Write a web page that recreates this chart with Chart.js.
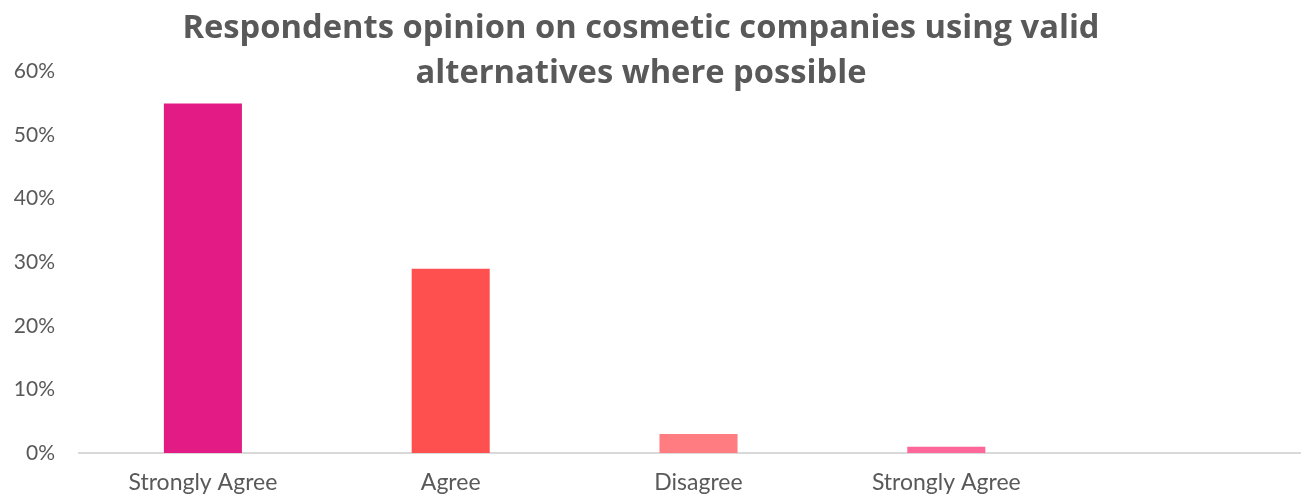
<!DOCTYPE html>
<html>
<head>
<meta charset="utf-8">
<script src="https://cdn.jsdelivr.net/npm/chart.js@4"></script>
<style>
  html, body { margin: 0; padding: 0; background: #fff; overflow: hidden; }
  #wrap { position: relative; width: 1301px; height: 499px; overflow: hidden; }
  #box { position: absolute; left: -36px; top: 0; width: 1354px; height: 499px; }
</style>
</head>
<body>
<div id="wrap"><div id="box"><canvas id="c"></canvas></div></div>
<script>
const categories = ["Strongly Agree", "Agree", "Disagree", "Strongly Agree", ""];
const values = [55, 29, 3, 1, null];
const barColors = ["#E31C85", "#FF5050", "#FF7C80", "#FF6699", "#FFFFFF"];
const titleLines = ["Respondents opinion on cosmetic companies using valid", "alternatives where possible"];
const yTicks = [0, 10, 20, 30, 40, 50, 60];

const textColor = "#595959";

new Chart(document.getElementById("c"), {
  type: "bar",
  data: {
    labels: categories,
    datasets: [{
      data: values,
      backgroundColor: barColors,
      barPercentage: 0.63,
      categoryPercentage: 0.5
    }]
  },
  options: {
    responsive: true,
    maintainAspectRatio: false,
    animation: false,
    layout: { padding: { left: 0, right: 0, top: 0, bottom: 0 } },
    plugins: {
      legend: { display: false },
      tooltip: { enabled: false },
      title: {
        display: true,
        text: titleLines,
        color: textColor,
        font: { family: "Open Sans", size: 32.7, weight: "bold", lineHeight: 1.37 },
        padding: { top: 6, bottom: -24 }
      }
    },
    scales: {
      x: {
        grid: { display: false, drawTicks: false },
        border: { display: true, color: "#D9D9D9", width: 2 },
        ticks: {
          color: textColor,
          font: { family: "Lato", size: 23 },
          padding: 16,
          maxRotation: 0,
          autoSkip: false
        },
        afterFit: s => { s.height = 46; }
      },
      y: {
        min: 0,
        max: 60,
        afterBuildTicks: s => { s.ticks = yTicks.map(v => ({ value: v })); },
        grid: { display: false, drawTicks: false },
        border: { display: false },
        ticks: {
          color: textColor,
          font: { family: "Lato", size: 21 },
          padding: 24,
          callback: v => v + "%"
        },
        afterFit: s => { s.width = 115; }
      }
    }
  }
});
</script>
</body>
</html>
